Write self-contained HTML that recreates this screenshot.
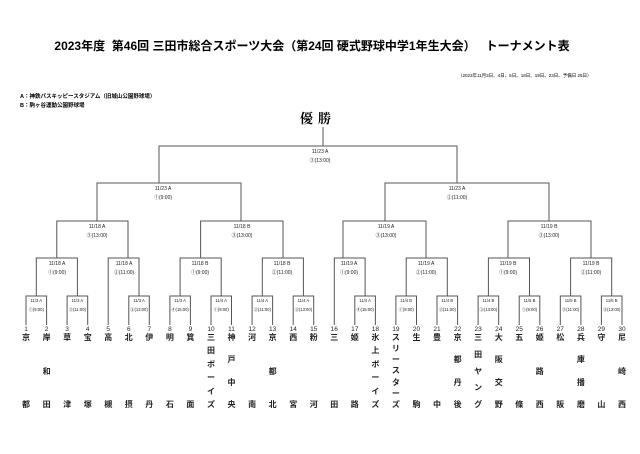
<!DOCTYPE html>
<html><head><meta charset="utf-8"><style>
body{margin:0;width:640px;height:454px;background:#fff;position:relative;overflow:hidden;font-family:"Liberation Sans","Noto Sans CJK JP",sans-serif;}
.t{position:absolute;white-space:nowrap;color:#000}
.nm{position:absolute;top:333px;height:76px;width:12px;display:flex;flex-direction:column;justify-content:space-between;align-items:center;font-size:8px;font-weight:bold;line-height:9px;color:#222}
</style></head><body>
<div class="t" style="left:0;width:624px;text-align:center;top:37px;font-size:12px;font-weight:bold">2023年度&nbsp; 第46回 三田市総合スポーツ大会（第24回 硬式野球中学1年生大会）&nbsp;&nbsp; トーナメント表</div>
<div class="t" style="left:458px;top:73px;font-size:4.5px">（2023年11月3日、4日、5日、18日、19日、23日、予備日 25日）</div>
<div class="t" style="left:20px;top:92px;font-size:5.5px;font-weight:bold">A：神鉄パスキッピースタジアム（旧城山公園野球場）</div>
<div class="t" style="left:20px;top:101px;font-size:5.5px;font-weight:bold">B：駒ヶ谷運動公園野球場</div>
<div class="t" style="left:300px;top:108px;font-size:13px;font-weight:bold;font-family:'Noto Serif CJK SC',serif;letter-spacing:5px">優勝</div>
<svg width="640" height="454" style="position:absolute;left:0;top:0" font-family="Liberation Sans, Noto Sans CJK JP, sans-serif">
<g stroke="#555" stroke-width="1" fill="none">
<path d="M323 127V146"/>
<path d="M159 183V146H457V183"/>
<path d="M97 221V183H241V221"/><path d="M385 221V183H549V221"/>
<path d="M56.8 258V221H128V258"/><path d="M200.6 258V221H283 V258"/>
<path d="M343 258V221H426V258"/><path d="M508 258V221H591V258"/>
<path d="M36.3 296V258H77.4V296"/><path d="M108.2 325V258H139V296"/>
<path d="M180.1 296V258H221.2V296"/><path d="M262.3 296V258H303.4V296"/>
<path d="M334.3 325V258H365.1V296"/><path d="M406.2 296V258H447.3V296"/>
<path d="M488.4 296V258H529.5V296"/><path d="M570.6 296V258H611.7V296"/>
<path d="M26 325V296H46.6V325"/><path d="M67.1 325V296H87.7V325"/>
<path d="M128.8 325V296H149.3V325"/><path d="M169.9 325V296H190.4V325"/>
<path d="M211 325V296H231.5V325"/><path d="M252.1 325V296H272.6V325"/>
<path d="M293.2 325V296H313.7V325"/><path d="M354.8 325V296H375.4V325"/>
<path d="M395.9 325V296H416.5V325"/><path d="M437 325V296H457.6V325"/>
<path d="M478.1 325V296H498.7V325"/><path d="M519.2 325V296H539.8V325"/>
<path d="M560.3 325V296H580.9V325"/><path d="M601.4 325V296H622V325"/>
</g>
<g font-size="5" text-anchor="middle" fill="#222">
<text x="320" y="153">11/23 A</text><text x="320" y="162">③(13:00)</text>
<text x="163" y="190">11/23 A</text><text x="163" y="199">①(9:00)</text>
<text x="457" y="190">11/23 A</text><text x="457" y="199">②(11:00)</text>
<text x="97" y="228">11/18 A</text><text x="97" y="237">③(13:00)</text>
<text x="242" y="228">11/18 B</text><text x="242" y="237">③(13:00)</text>
<text x="386" y="228">11/19 A</text><text x="386" y="237">③(13:00)</text>
<text x="549" y="228">11/19 B</text><text x="549" y="237">③(13:00)</text>
<text x="57" y="265">11/18 A</text><text x="57" y="274">①(9:00)</text>
<text x="124" y="265">11/18 A</text><text x="124" y="274">②(11:00)</text>
<text x="200" y="265">11/18 B</text><text x="200" y="274">①(9:00)</text>
<text x="282" y="265">11/18 B</text><text x="282" y="274">②(11:00)</text>
<text x="349" y="265">11/19 A</text><text x="349" y="274">①(9:00)</text>
<text x="426" y="265">11/19 A</text><text x="426" y="274">②(11:00)</text>
<text x="508" y="265">11/19 B</text><text x="508" y="274">①(9:00)</text>
<text x="591" y="265">11/19 B</text><text x="591" y="274">②(11:00)</text>
</g>
<g font-size="4.2" text-anchor="middle" fill="#222">
<text x="36.3" y="302">11/3 A</text><text x="36.3" y="311">①(9:00)</text>
<text x="77.4" y="302">11/3 A</text><text x="77.4" y="311">②(11:00)</text>
<text x="139" y="302">11/3 A</text><text x="139" y="311">③(13:00)</text>
<text x="180.1" y="302">11/3 A</text><text x="180.1" y="311">④(15:00)</text>
<text x="221.2" y="302">11/4 A</text><text x="221.2" y="311">①(9:00)</text>
<text x="262.3" y="302">11/4 A</text><text x="262.3" y="311">②(11:00)</text>
<text x="303.4" y="302">11/4 A</text><text x="303.4" y="311">③(13:00)</text>
<text x="365.1" y="302">11/4 A</text><text x="365.1" y="311">④(15:00)</text>
<text x="406.2" y="302">11/4 B</text><text x="406.2" y="311">①(9:00)</text>
<text x="447.3" y="302">11/4 B</text><text x="447.3" y="311">②(11:00)</text>
<text x="488.4" y="302">11/4 B</text><text x="488.4" y="311">③(13:00)</text>
<text x="529.5" y="302">11/5 B</text><text x="529.5" y="311">①(9:00)</text>
<text x="570.6" y="302">11/5 B</text><text x="570.6" y="311">②(11:00)</text>
<text x="611.7" y="302">11/5 B</text><text x="611.7" y="311">③(13:00)</text>
</g>
<g font-size="6.5" text-anchor="middle" fill="#222">
<text x="26" y="331">1</text><text x="46.6" y="331">2</text><text x="67.1" y="331">3</text><text x="87.7" y="331">4</text><text x="108.2" y="331">5</text><text x="128.8" y="331">6</text><text x="149.3" y="331">7</text><text x="169.9" y="331">8</text><text x="190.4" y="331">9</text><text x="211" y="331">10</text><text x="231.5" y="331">11</text><text x="252.1" y="331">12</text><text x="272.6" y="331">13</text><text x="293.2" y="331">14</text><text x="313.7" y="331">15</text><text x="334.3" y="331">16</text><text x="354.8" y="331">17</text><text x="375.4" y="331">18</text><text x="395.9" y="331">19</text><text x="416.5" y="331">20</text><text x="437" y="331">21</text><text x="457.6" y="331">22</text><text x="478.1" y="331">23</text><text x="498.7" y="331">24</text><text x="519.2" y="331">25</text><text x="539.8" y="331">26</text><text x="560.3" y="331">27</text><text x="580.9" y="331">28</text><text x="601.4" y="331">29</text><text x="622" y="331">30</text>
</g>
</svg>
<div class="nm" style="left:20px"><span>京</span><span>都</span></div>
<div class="nm" style="left:40.6px"><span>岸</span><span>和</span><span>田</span></div>
<div class="nm" style="left:61.1px"><span>草</span><span>津</span></div>
<div class="nm" style="left:81.7px"><span>宝</span><span>塚</span></div>
<div class="nm" style="left:102.2px"><span>高</span><span>槻</span></div>
<div class="nm" style="left:122.8px"><span>北</span><span>摂</span></div>
<div class="nm" style="left:143.3px"><span>伊</span><span>丹</span></div>
<div class="nm" style="left:163.9px"><span>明</span><span>石</span></div>
<div class="nm" style="left:184.4px"><span>箕</span><span>面</span></div>
<div class="nm" style="left:205px"><span>三</span><span>田</span><span>ボ</span><span>ー</span><span>イ</span><span>ズ</span></div>
<div class="nm" style="left:225.5px"><span>神</span><span>戸</span><span>中</span><span>央</span></div>
<div class="nm" style="left:246.1px"><span>河</span><span>南</span></div>
<div class="nm" style="left:266.6px"><span>京</span><span>都</span><span>北</span></div>
<div class="nm" style="left:287.2px"><span>西</span><span>宮</span></div>
<div class="nm" style="left:307.7px"><span>粉</span><span>河</span></div>
<div class="nm" style="left:328.3px"><span>三</span><span>田</span></div>
<div class="nm" style="left:348.8px"><span>姫</span><span>路</span></div>
<div class="nm" style="left:369.4px"><span>氷</span><span>上</span><span>ボ</span><span>ー</span><span>イ</span><span>ズ</span></div>
<div class="nm" style="left:389.9px"><span>ス</span><span>リ</span><span>ー</span><span>ス</span><span>タ</span><span>ー</span><span>ズ</span></div>
<div class="nm" style="left:410.5px"><span>生</span><span>駒</span></div>
<div class="nm" style="left:431px"><span>豊</span><span>中</span></div>
<div class="nm" style="left:451.6px"><span>京</span><span>都</span><span>丹</span><span>後</span></div>
<div class="nm" style="left:472.1px"><span>三</span><span>田</span><span>ヤ</span><span>ン</span><span>グ</span></div>
<div class="nm" style="left:492.7px"><span>大</span><span>阪</span><span>交</span><span>野</span></div>
<div class="nm" style="left:513.2px"><span>五</span><span>條</span></div>
<div class="nm" style="left:533.8px"><span>姫</span><span>路</span><span>西</span></div>
<div class="nm" style="left:554.3px"><span>松</span><span>阪</span></div>
<div class="nm" style="left:574.9px"><span>兵</span><span>庫</span><span>播</span><span>磨</span></div>
<div class="nm" style="left:595.4px"><span>守</span><span>山</span></div>
<div class="nm" style="left:616px"><span>尼</span><span>崎</span><span>西</span></div>
</body></html>
